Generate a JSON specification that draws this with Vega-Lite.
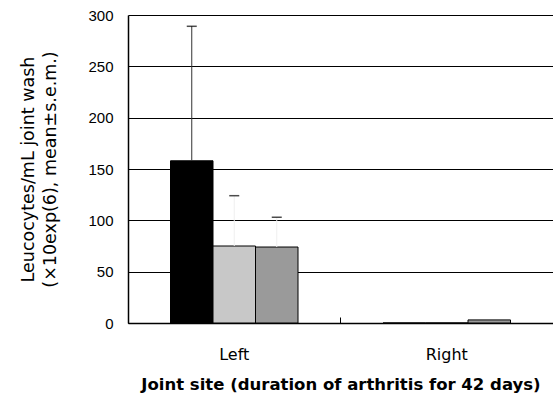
{
  "$schema": "https://vega.github.io/schema/vega-lite/v6.json",
  "autosize": "none",
  "width": 425,
  "height": 308,
  "padding": {"left": 128, "top": 15, "right": 0, "bottom": 75},
  "background": "white",
  "config": {"view": {"stroke": null}},
  "data": {"values": [
    {"site": "Left", "group": "Group 1", "mean": 158, "upper": 289},
    {"site": "Left", "group": "Group 2", "mean": 75, "upper": 124},
    {"site": "Left", "group": "Group 3", "mean": 74, "upper": 103},
    {"site": "Right", "group": "Group 1", "mean": 0, "upper": null},
    {"site": "Right", "group": "Group 2", "mean": 0, "upper": null},
    {"site": "Right", "group": "Group 3", "mean": 3, "upper": null}
  ]},
  "encoding": {
    "x": {"field": "site", "type": "nominal", "sort": ["Left", "Right"],
      "scale": {"paddingInner": 0, "paddingOuter": 0},
      "axis": {"title": "Joint site (duration of arthritis for 42 days)", "labelAngle": 0,
        "bandPosition": 0, "tickSize": -6, "tickColor": "black", "domainColor": "black", "domainWidth": 1.5,
        "labelFont": "DejaVu Sans", "labelFontSize": 16, "labelColor": "black", "labelPadding": 29,
        "titleFont": "DejaVu Sans", "titleFontSize": 16.5, "titleFontWeight": "bold", "titleColor": "black", "titlePadding": 14}},
    "xOffset": {"field": "group", "type": "nominal", "scale": {"paddingInner": 0, "paddingOuter": 1.04}}
  },
  "layer": [
    {
      "mark": {"type": "bar", "stroke": "black", "strokeWidth": 1},
      "encoding": {
        "y": {"field": "mean", "type": "quantitative",
          "scale": {"domain": [0, 300]},
          "axis": {"values": [0, 50, 100, 150, 200, 250, 300], "grid": true, "gridColor": "black", "gridWidth": 1.2, "gridOpacity": 1,
            "tickSize": 0, "domainColor": "black", "domainWidth": 1.5,
            "labelFont": "Liberation Sans", "labelFontSize": 15, "labelColor": "black", "labelPadding": 15,
            "title": ["Leucocytes/mL joint wash", "(×10exp(6), mean±s.e.m.)"],
            "titleFont": "DejaVu Sans", "titleFontSize": 17.5, "titleFontWeight": "normal", "titleColor": "black",
            "titleLineHeight": 22, "titlePadding": 28}},
        "fill": {"field": "group", "type": "nominal", "scale": {"range": ["#000000", "#c8c8c8", "#9a9a9a"]}, "legend": null}
      }
    },
    {
      "transform": [{"filter": "datum.upper != null && datum.group == 'Group 1'"}],
      "mark": {"type": "rule", "color": "#333", "strokeWidth": 1},
      "encoding": {"y": {"field": "mean", "type": "quantitative"}, "y2": {"field": "upper"}}
    },
    {
      "transform": [{"filter": "datum.upper != null && datum.group != 'Group 1'"}],
      "mark": {"type": "rule", "color": "#efefef", "strokeWidth": 1},
      "encoding": {"y": {"field": "mean", "type": "quantitative"}, "y2": {"field": "upper"}}
    },
    {
      "transform": [{"filter": "datum.upper != null"}],
      "mark": {"type": "tick", "color": "black", "orient": "horizontal", "size": 10, "thickness": 1.5},
      "encoding": {"y": {"field": "upper", "type": "quantitative"}}
    }
  ]
}
